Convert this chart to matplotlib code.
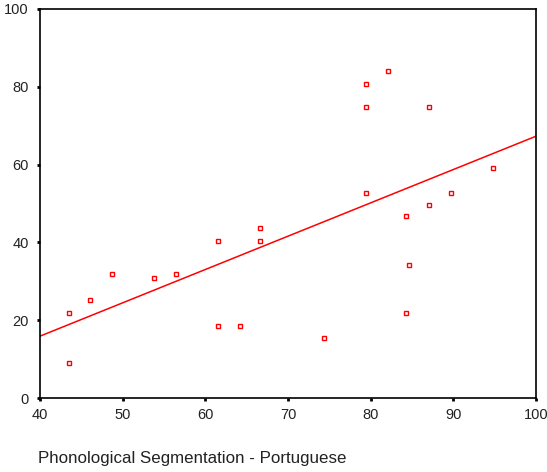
import matplotlib
matplotlib.use("Agg")
import matplotlib.pyplot as plt

plt.rcParams['font.family'] = ['Liberation Sans', 'DejaVu Sans']

# Data
x_vals = [43.5, 43.5, 46.0, 48.7, 53.8, 56.4, 61.5, 61.5, 64.2, 66.6, 66.6,
          74.3, 79.4, 79.4, 79.4, 82.1, 87.0, 87.0, 89.7, 84.3, 84.6, 84.3, 94.8]
y_vals = [9.0, 21.8, 25.1, 32.0, 30.8, 32.0, 18.5, 40.3, 18.5, 43.6, 40.3,
          15.4, 80.8, 74.9, 52.8, 84.1, 74.9, 49.7, 52.8, 46.7, 34.1, 21.8, 59.0]
fit_x = [40, 100]
fit_y = [15.9, 67.3]
x_ticks = [40, 50, 60, 70, 80, 90, 100]
y_ticks = [0, 20, 40, 60, 80, 100]
x_label = "Phonological Segmentation - Portuguese"

W, H = 547, 472
fig = plt.figure(figsize=(W/100, H/100), dpi=100)
ax = fig.add_axes([40/W, 1-398/H, (536-40)/W, (398-9)/H])

ax.plot(fit_x, fit_y, color='#ff0000', lw=1.1, zorder=2)
ax.plot(x_vals, y_vals, linestyle='none', marker='s', markersize=3.2,
        markerfacecolor='white', markeredgecolor='#ff0000', markeredgewidth=1.0, zorder=3)

ax.set_xlim(40, 100)
ax.set_ylim(0, 100)
ax.set_xticks(x_ticks)
ax.set_yticks(y_ticks)
ax.tick_params(direction='out', length=2, width=2, labelsize=10.5, colors='black')
ax.tick_params(axis='x', pad=5)
ax.tick_params(axis='y', pad=6)
for lbl in ax.get_xticklabels() + ax.get_yticklabels():
    lbl.set_color('#222222')
for s in ax.spines.values():
    s.set_linewidth(1.2)
    s.set_color('black')

fig.text(38/W, 1-459/H, x_label, fontsize=12.2, ha='left', va='center', color='#222222')

fig.savefig('out.png', dpi=100)
